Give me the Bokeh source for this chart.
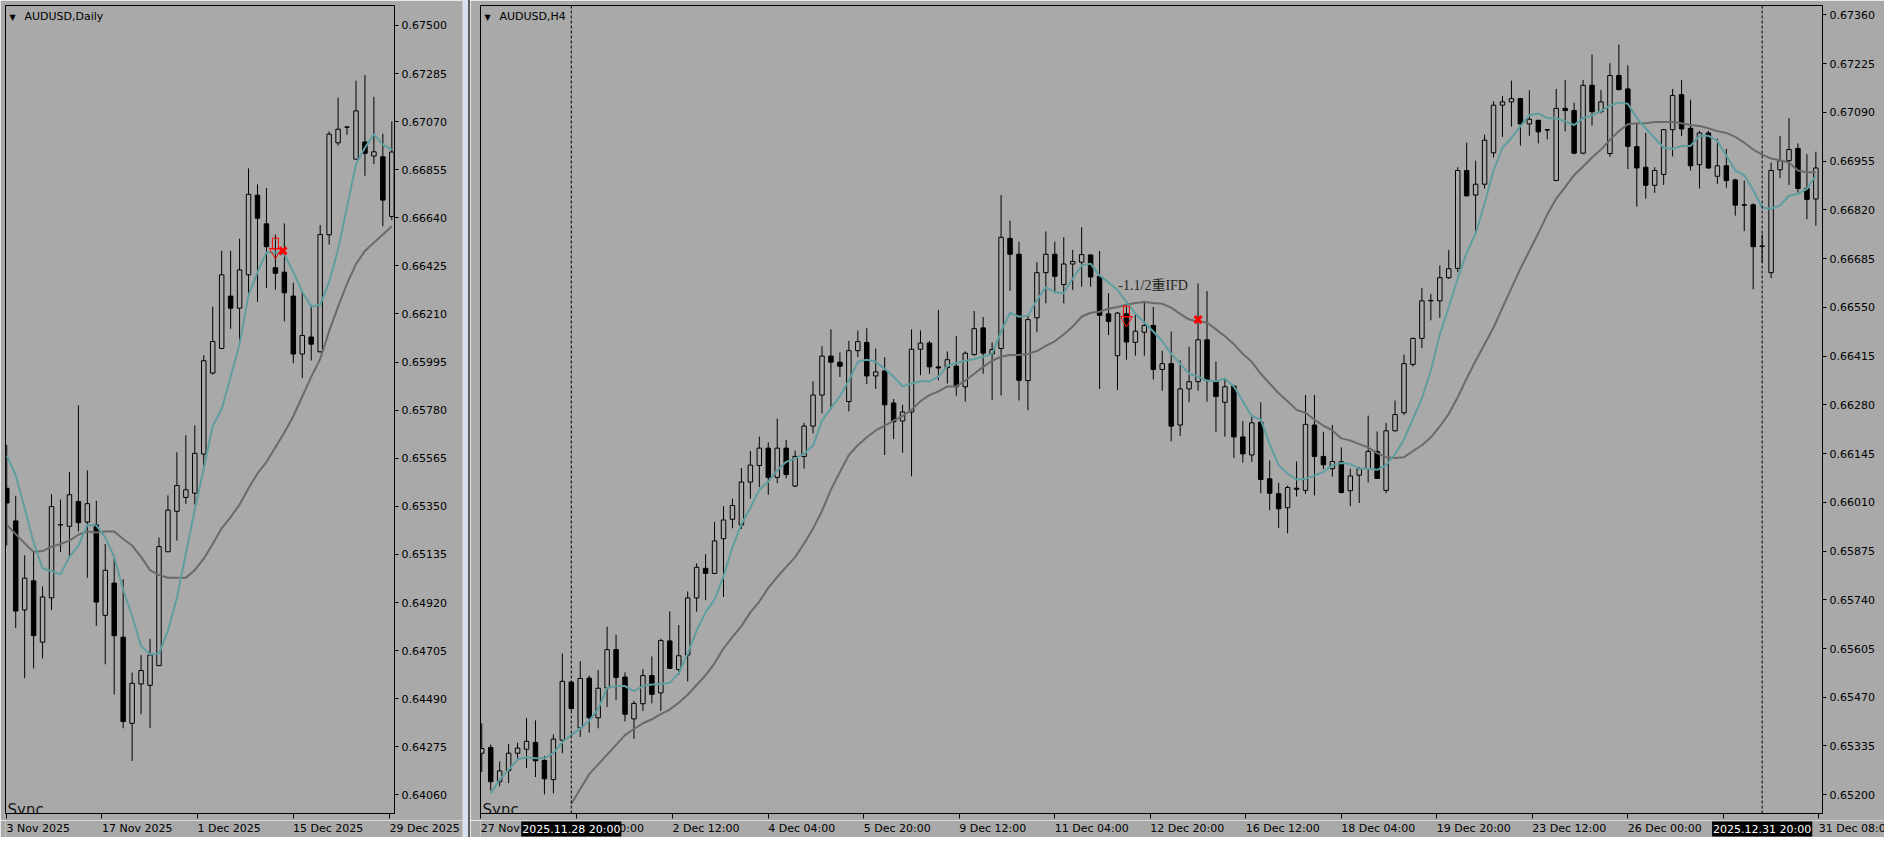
from bokeh.plotting import figure
from bokeh.models import (ColumnDataSource, FixedTicker, PrintfTickFormatter,
                          CustomJSTickFormatter, Span, Label, Range1d, Div)
from bokeh.layouts import row, column
from bokeh.embed import file_html
from bokeh.resources import INLINE

# ---------------- DATA: AUDUSD Daily ----------------
d_open = [0.65431, 0.65285, 0.64887, 0.65017, 0.64743, 0.64941, 0.65267, 0.65261, 0.65372, 0.65280,
          0.65267, 0.64863, 0.65007, 0.64765, 0.64380, 0.64556, 0.64550, 0.64638, 0.65147, 0.65328,
          0.65390, 0.65409, 0.65584, 0.65946, 0.66056, 0.66290, 0.66236, 0.66385, 0.66741, 0.66613,
          0.66417, 0.66397, 0.66290, 0.66031, 0.66107, 0.66041, 0.66564, 0.66975, 0.67045, 0.66902,
          0.66979, 0.66916, 0.66913, 0.66646]
d_high = [0.65625, 0.65397, 0.65131, 0.65146, 0.64992, 0.65404, 0.65380, 0.65504, 0.65801, 0.65511,
          0.65375, 0.65182, 0.65119, 0.65024, 0.64607, 0.64685, 0.64758, 0.65211, 0.65399, 0.65592,
          0.65668, 0.65712, 0.66026, 0.66243, 0.66492, 0.66492, 0.66546, 0.66861, 0.66789, 0.66773,
          0.66565, 0.66615, 0.66350, 0.66308, 0.66251, 0.66608, 0.67026, 0.67177, 0.67048, 0.67253,
          0.67278, 0.67181, 0.67016, 0.67071]
d_low = [0.65175, 0.64806, 0.64582, 0.64626, 0.64670, 0.64887, 0.65146, 0.65119, 0.65238, 0.65031,
         0.64816, 0.64644, 0.64509, 0.64358, 0.64212, 0.64421, 0.64360, 0.64638, 0.65147, 0.65197,
         0.65361, 0.65358, 0.65511, 0.65939, 0.66053, 0.66144, 0.66082, 0.66287, 0.66265, 0.66327,
         0.66319, 0.66177, 0.65990, 0.65924, 0.66002, 0.66038, 0.66520, 0.66963, 0.67011, 0.66902,
         0.66828, 0.66880, 0.66602, 0.66631]
d_close = [0.65365, 0.64882, 0.65029, 0.64772, 0.64945, 0.65349, 0.65268, 0.65402, 0.65277, 0.65362,
           0.64922, 0.65064, 0.64772, 0.64388, 0.64559, 0.64616, 0.64685, 0.65170, 0.65333, 0.65443,
           0.65424, 0.65587, 0.66001, 0.66087, 0.66385, 0.66236, 0.66407, 0.66745, 0.66638, 0.66511,
           0.66392, 0.66305, 0.66031, 0.66114, 0.66075, 0.66565, 0.67014, 0.67036, 0.67046, 0.67118,
           0.66928, 0.66935, 0.66719, 0.66934]
d_fast_ma = [0.65577, 0.65489, 0.65343, 0.65189, 0.65072, 0.65061, 0.65046, 0.65124, 0.65175, 0.65267,
             0.65265, 0.65211, 0.65124, 0.64977, 0.64860, 0.64726, 0.64688, 0.64692, 0.64794, 0.64941,
             0.65138, 0.65336, 0.65519, 0.65709, 0.65784, 0.65929, 0.66075, 0.66294, 0.66397, 0.66485,
             0.66485, 0.66477, 0.66397, 0.66309, 0.66243, 0.66251, 0.66353, 0.66499, 0.66689, 0.66880,
             0.66953, 0.67014, 0.66967, 0.66945]
d_slow_ma = [0.65267, 0.65226, 0.65185, 0.65146, 0.65150, 0.65170, 0.65182, 0.65197, 0.65223, 0.65238,
             0.65233, 0.65238, 0.65238, 0.65204, 0.65175, 0.65124, 0.65065, 0.65043, 0.65031, 0.65031,
             0.65031, 0.65065, 0.65116, 0.65182, 0.65252, 0.65302, 0.65358, 0.65431, 0.65497, 0.65548,
             0.65614, 0.65680, 0.65753, 0.65841, 0.65929, 0.66009, 0.66133, 0.66243, 0.66346, 0.66433,
             0.66492, 0.66529, 0.66565, 0.66602]
d_y_ticks = [0.67500, 0.67285, 0.67070, 0.66855, 0.66640, 0.66425, 0.66210, 0.65995, 0.65780,
             0.65565, 0.65350, 0.65135, 0.64920, 0.64705, 0.64490, 0.64275, 0.64060]
d_x_tick_pos = [-0.03, 10.63, 21.3, 31.97, 42.75]
d_x_tick_labels = ["3 Nov 2025", "17 Nov 2025", "1 Dec 2025", "15 Dec 2025", "29 Dec 2025"]
d_sell_bar, d_sell_stem, d_sell_head = 30, 0.66525, 0.66487
d_exit_bar, d_exit_price = 30.85, 0.66492

# ---------------- DATA: AUDUSD H4 ----------------
h_open = [0.65315, 0.65331, 0.65236, 0.65267, 0.65315, 0.65326, 0.65345, 0.65295, 0.65242, 0.65351,
          0.65512, 0.65385, 0.65523, 0.65413, 0.65496, 0.65602, 0.65526, 0.65410, 0.65452, 0.65530,
          0.65482, 0.65626, 0.65547, 0.65587, 0.65745, 0.65827, 0.65813, 0.65909, 0.65963, 0.65947,
          0.66066, 0.66112, 0.66160, 0.66079, 0.66160, 0.66055, 0.66137, 0.66221, 0.66307, 0.66415,
          0.66398, 0.66289, 0.66430, 0.66453, 0.66360, 0.66374, 0.66285, 0.66235, 0.66260, 0.66434,
          0.66451, 0.66385, 0.66383, 0.66387, 0.66330, 0.66419, 0.66493, 0.66421, 0.66436, 0.66741,
          0.66697, 0.66347, 0.66521, 0.66646, 0.66697, 0.66613, 0.66670, 0.66675, 0.66695, 0.66636,
          0.66532, 0.66416, 0.66532, 0.66453, 0.66481, 0.66500, 0.66378, 0.66394, 0.66224, 0.66324,
          0.66344, 0.66460, 0.66344, 0.66287, 0.66332, 0.66191, 0.66141, 0.66232, 0.66075, 0.66034,
          0.65995, 0.66049, 0.66043, 0.66224, 0.66137, 0.66103, 0.66122, 0.66042, 0.66085, 0.66103,
          0.66151, 0.66043, 0.66208, 0.66258, 0.66392, 0.66464, 0.66568, 0.66568, 0.66632, 0.66658,
          0.66929, 0.66861, 0.66891, 0.66978, 0.67110, 0.67119, 0.67128, 0.67058, 0.67068, 0.67042,
          0.66901, 0.67101, 0.67095, 0.66977, 0.67165, 0.67092, 0.66976, 0.67192, 0.67155, 0.66995,
          0.66938, 0.66888, 0.66918, 0.67042, 0.67139, 0.67046, 0.66945, 0.67033, 0.66913, 0.66942,
          0.66903, 0.66834, 0.66834, 0.66719, 0.66646, 0.66931, 0.66956, 0.66990, 0.66879, 0.66850]
h_high = [0.65398, 0.65339, 0.65292, 0.65341, 0.65344, 0.65412, 0.65406, 0.65307, 0.65367, 0.65591,
          0.65516, 0.65570, 0.65530, 0.65545, 0.65665, 0.65643, 0.65539, 0.65460, 0.65548, 0.65583,
          0.65632, 0.65708, 0.65670, 0.65763, 0.65841, 0.65866, 0.65956, 0.65999, 0.66020, 0.66105,
          0.66152, 0.66192, 0.66176, 0.66242, 0.66183, 0.66153, 0.66230, 0.66345, 0.66442, 0.66489,
          0.66425, 0.66457, 0.66486, 0.66492, 0.66436, 0.66412, 0.66296, 0.66280, 0.66489, 0.66486,
          0.66457, 0.66543, 0.66428, 0.66471, 0.66428, 0.66540, 0.66523, 0.66453, 0.66861, 0.66790,
          0.66732, 0.66528, 0.66675, 0.66760, 0.66732, 0.66744, 0.66709, 0.66772, 0.66697, 0.66706,
          0.66589, 0.66537, 0.66552, 0.66534, 0.66568, 0.66551, 0.66430, 0.66483, 0.66403, 0.66441,
          0.66616, 0.66595, 0.66400, 0.66353, 0.66335, 0.66235, 0.66247, 0.66287, 0.66126, 0.66064,
          0.66056, 0.66123, 0.66307, 0.66307, 0.66205, 0.66224, 0.66162, 0.66103, 0.66108, 0.66250,
          0.66206, 0.66230, 0.66292, 0.66419, 0.66466, 0.66604, 0.66587, 0.66666, 0.66709, 0.66938,
          0.67006, 0.66956, 0.67028, 0.67121, 0.67135, 0.67178, 0.67130, 0.67151, 0.67069, 0.67043,
          0.67155, 0.67180, 0.67117, 0.67180, 0.67250, 0.67152, 0.67226, 0.67278, 0.67220, 0.67060,
          0.67033, 0.66938, 0.67044, 0.67155, 0.67180, 0.67125, 0.67039, 0.67039, 0.67017, 0.66989,
          0.66906, 0.66901, 0.66838, 0.66752, 0.66951, 0.67024, 0.67074, 0.67004, 0.66974, 0.66981]
h_low = [0.65263, 0.65212, 0.65223, 0.65232, 0.65294, 0.65274, 0.65249, 0.65201, 0.65204, 0.65315,
         0.65433, 0.65360, 0.65372, 0.65384, 0.65443, 0.65462, 0.65403, 0.65355, 0.65432, 0.65453,
         0.65432, 0.65548, 0.65532, 0.65514, 0.65707, 0.65739, 0.65811, 0.65748, 0.65938, 0.65936,
         0.66020, 0.66052, 0.66031, 0.66063, 0.66076, 0.66052, 0.66103, 0.66201, 0.66256, 0.66267,
         0.66357, 0.66262, 0.66412, 0.66337, 0.66324, 0.66141, 0.66185, 0.66147, 0.66082, 0.66362,
         0.66366, 0.66348, 0.66339, 0.66305, 0.66289, 0.66416, 0.66366, 0.66294, 0.66306, 0.66596,
         0.66292, 0.66265, 0.66481, 0.66561, 0.66589, 0.66561, 0.66598, 0.66607, 0.66607, 0.66324,
         0.66473, 0.66321, 0.66405, 0.66416, 0.66416, 0.66350, 0.66319, 0.66179, 0.66194, 0.66287,
         0.66319, 0.66289, 0.66205, 0.66192, 0.66133, 0.66120, 0.66122, 0.66035, 0.65988, 0.65939,
         0.65924, 0.66026, 0.66033, 0.66029, 0.66102, 0.66081, 0.66035, 0.65999, 0.66008, 0.66065,
         0.66076, 0.66035, 0.66206, 0.66252, 0.66386, 0.66437, 0.66514, 0.66521, 0.66629, 0.66647,
         0.66856, 0.66756, 0.66879, 0.66965, 0.67022, 0.67051, 0.66998, 0.67025, 0.67004, 0.67015,
         0.66901, 0.67037, 0.66974, 0.66974, 0.67053, 0.67087, 0.66967, 0.67151, 0.66933, 0.66829,
         0.66851, 0.66867, 0.66889, 0.66968, 0.67024, 0.66929, 0.66879, 0.66933, 0.66892, 0.66881,
         0.66804, 0.66761, 0.66600, 0.66675, 0.66631, 0.66908, 0.66889, 0.66868, 0.66794, 0.66776]
h_close = [0.65328, 0.65236, 0.65266, 0.65315, 0.65329, 0.65348, 0.65294, 0.65244, 0.65354, 0.65514,
           0.65439, 0.65522, 0.65413, 0.65495, 0.65602, 0.65525, 0.65423, 0.65453, 0.65530, 0.65478,
           0.65627, 0.65550, 0.65585, 0.65745, 0.65830, 0.65813, 0.65903, 0.65961, 0.66001, 0.66066,
           0.66113, 0.66160, 0.66079, 0.66160, 0.66087, 0.66137, 0.66221, 0.66307, 0.66415, 0.66398,
           0.66387, 0.66430, 0.66455, 0.66360, 0.66371, 0.66280, 0.66233, 0.66260, 0.66434, 0.66451,
           0.66385, 0.66382, 0.66405, 0.66330, 0.66423, 0.66491, 0.66423, 0.66433, 0.66744, 0.66697,
           0.66348, 0.66516, 0.66646, 0.66697, 0.66636, 0.66670, 0.66677, 0.66696, 0.66634, 0.66528,
           0.66511, 0.66534, 0.66454, 0.66484, 0.66500, 0.66378, 0.66394, 0.66221, 0.66324, 0.66344,
           0.66460, 0.66347, 0.66303, 0.66330, 0.66191, 0.66144, 0.66230, 0.66073, 0.66035, 0.65992,
           0.66051, 0.66046, 0.66226, 0.66137, 0.66114, 0.66123, 0.66037, 0.66083, 0.66103, 0.66151,
           0.66076, 0.66208, 0.66253, 0.66394, 0.66464, 0.66568, 0.66569, 0.66632, 0.66657, 0.66929,
           0.66859, 0.66891, 0.67013, 0.67110, 0.67119, 0.67128, 0.67058, 0.67071, 0.67036, 0.67041,
           0.67101, 0.67095, 0.66977, 0.67165, 0.67092, 0.67119, 0.67192, 0.67153, 0.66996, 0.66936,
           0.66888, 0.66929, 0.67042, 0.67137, 0.67044, 0.66942, 0.67033, 0.66936, 0.66942, 0.66901,
           0.66833, 0.66833, 0.66718, 0.66720, 0.66929, 0.66956, 0.66987, 0.66879, 0.66849, 0.66936]
h_fast_start = 1
h_fast_ma = [0.65203, 0.65242, 0.65269, 0.65298, 0.65304, 0.65301, 0.65301, 0.65315, 0.65346, 0.65365,
             0.65383, 0.65405, 0.65437, 0.65496, 0.65501, 0.65501, 0.65487, 0.65501, 0.65505, 0.65507,
             0.65510, 0.65537, 0.65591, 0.65655, 0.65705, 0.65741, 0.65804, 0.65886, 0.65949, 0.65995,
             0.66045, 0.66067, 0.66099, 0.66122, 0.66131, 0.66144, 0.66167, 0.66236, 0.66271, 0.66304,
             0.66347, 0.66399, 0.66405, 0.66399, 0.66380, 0.66358, 0.66331, 0.66339, 0.66345, 0.66345,
             0.66358, 0.66388, 0.66396, 0.66402, 0.66407, 0.66413, 0.66421, 0.66483, 0.66535, 0.66524,
             0.66527, 0.66570, 0.66606, 0.66592, 0.66589, 0.66630, 0.66666, 0.66671, 0.66638, 0.66619,
             0.66598, 0.66565, 0.66532, 0.66508, 0.66483, 0.66456, 0.66421, 0.66394, 0.66366, 0.66358,
             0.66347, 0.66345, 0.66353, 0.66331, 0.66290, 0.66249, 0.66239, 0.66171, 0.66113, 0.66089,
             0.66073, 0.66075, 0.66084, 0.66094, 0.66113, 0.66119, 0.66116, 0.66103, 0.66103, 0.66100,
             0.66113, 0.66143, 0.66184, 0.66241, 0.66298, 0.66375, 0.66475, 0.66551, 0.66630, 0.66701,
             0.66755, 0.66837, 0.66929, 0.66992, 0.67019, 0.67052, 0.67082, 0.67087, 0.67074, 0.67074,
             0.67065, 0.67055, 0.67074, 0.67082, 0.67093, 0.67109, 0.67117, 0.67114, 0.67074, 0.67046,
             0.67019, 0.66992, 0.66989, 0.66997, 0.66997, 0.67025, 0.67025, 0.67011, 0.66970, 0.66929,
             0.66916, 0.66875, 0.66826, 0.66823, 0.66832, 0.66859, 0.66864, 0.66878, 0.66916]
h_slow_start = 10
h_slow_ma = [0.65175, 0.65216, 0.65257, 0.65284, 0.65311, 0.65338, 0.65365, 0.65382, 0.65398, 0.65409,
             0.65423, 0.65436, 0.65455, 0.65477, 0.65504, 0.65531, 0.65564, 0.65605, 0.65637, 0.65667,
             0.65705, 0.65735, 0.65773, 0.65803, 0.65831, 0.65858, 0.65896, 0.65937, 0.65986, 0.66045,
             0.66094, 0.66141, 0.66168, 0.66190, 0.66209, 0.66222, 0.66236, 0.66249, 0.66266, 0.66290,
             0.66307, 0.66317, 0.66331, 0.66331, 0.66347, 0.66366, 0.66385, 0.66402, 0.66413, 0.66418,
             0.66418, 0.66421, 0.66429, 0.66443, 0.66456, 0.66475, 0.66497, 0.66524, 0.66535, 0.66538,
             0.66546, 0.66551, 0.66557, 0.66562, 0.66565, 0.66562, 0.66560, 0.66549, 0.66532, 0.66516,
             0.66511, 0.66508, 0.66489, 0.66470, 0.66448, 0.66421, 0.66399, 0.66366, 0.66339, 0.66312,
             0.66290, 0.66266, 0.66258, 0.66239, 0.66222, 0.66209, 0.66187, 0.66181, 0.66171, 0.66162,
             0.66146, 0.66135, 0.66133, 0.66135, 0.66152, 0.66168, 0.66190, 0.66220, 0.66255, 0.66301,
             0.66353, 0.66402, 0.66448, 0.66494, 0.66549, 0.66603, 0.66657, 0.66706, 0.66755, 0.66807,
             0.66851, 0.66883, 0.66916, 0.66940, 0.66965, 0.66987, 0.67014, 0.67038, 0.67057, 0.67060,
             0.67060, 0.67063, 0.67063, 0.67063, 0.67060, 0.67055, 0.67052, 0.67046, 0.67038, 0.67033,
             0.67022, 0.67006, 0.66987, 0.66973, 0.66962, 0.66957, 0.66951, 0.66929, 0.66924, 0.66924]
h_y_ticks = [0.67360, 0.67225, 0.67090, 0.66955, 0.66820, 0.66685, 0.66550, 0.66415, 0.66280,
             0.66145, 0.66010, 0.65875, 0.65740, 0.65605, 0.65470, 0.65335, 0.65200]
h_x_tick_pos = [-0.1, 10.63, 21.3, 32.0, 42.67, 53.33, 64.0, 74.67, 85.33, 96.0,
                106.67, 117.33, 128.0, 149.33]
h_x_tick_labels = ["27 Nov 04:00", "1 Dec 00:00", "2 Dec 12:00", "4 Dec 04:00", "5 Dec 20:00",
                   "9 Dec 12:00", "11 Dec 04:00", "12 Dec 20:00", "16 Dec 12:00", "18 Dec 04:00",
                   "19 Dec 20:00", "23 Dec 12:00", "26 Dec 00:00", "31 Dec 08:00"]
h_hidden_tick = 138.67
h_vlines = [10, 143]
h_vline_labels = ["2025.11.28 20:00", "2025.12.31 20:00"]
h_sell_bar, h_sell_stem, h_sell_head = 72, 0.66538, 0.66515
h_exit_bar, h_exit_price = 80, 0.66516
h_note_bar, h_note_price, h_note_text = 71.1, 0.66610, "-1.1/2重IFD"

# ---------------- STYLE / LAYOUT ----------------
BG = "#a9a9a9"
TEAL = "#5f9ea0"
GREY_MA = "#6a6a6a"
FONT = "DejaVu Sans"
H = 837
TOP = 5
TICK_ZONE = 7
STRIP_H = 17
FRAME_H = H - TOP - TICK_ZONE - STRIP_H
X0 = -0.14


def no_align(fig):
    try:
        fig.frame_align = False
    except Exception:
        pass


def make_panel(width, b_left, b_right, x_end, y_lo, y_hi, o, hi, lo, c,
               fast_start, fast, slow_start, slow, y_ticks, xt_pos, xt_lab, title,
               extra_ticks=(), vlines=(), vline_labels=()):
    p = figure(width=width, height=H - STRIP_H, x_range=Range1d(X0, x_end),
               y_range=Range1d(y_lo, y_hi),
               output_backend="svg", toolbar_location=None, tools="", y_axis_location="right",
               min_border_left=b_left, min_border_right=b_right, min_border_top=TOP,
               min_border_bottom=TICK_ZONE, background_fill_color=BG, border_fill_color=BG,
               outline_line_color="black", outline_line_width=1, margin=(0, 0, 0, 0))
    no_align(p)
    p.grid.visible = False

    xs = list(range(len(o)))
    src = ColumnDataSource(dict(
        x=xs, high=hi, low=lo,
        top=[max(a, b) for a, b in zip(o, c)],
        bottom=[min(a, b) for a, b in zip(o, c)],
        fill=[BG if b >= a else "black" for a, b in zip(o, c)]))
    p.segment(x0="x", y0="low", x1="x", y1="high", source=src, line_color="black", line_width=1)
    p.vbar(x="x", width=0.5, top="top", bottom="bottom", source=src,
           fill_color="fill", line_color="black", line_width=1)

    p.line(list(range(slow_start, slow_start + len(slow))), slow, line_color=GREY_MA, line_width=2)
    p.line(list(range(fast_start, fast_start + len(fast))), fast, line_color=TEAL, line_width=2)

    for vx in vlines:
        p.add_layout(Span(location=vx, dimension="height", line_color="black",
                          line_dash="3 2", line_width=1))

    yax = p.yaxis[0]
    yax.ticker = FixedTicker(ticks=y_ticks)
    yax.formatter = PrintfTickFormatter(format="%.5f")
    yax.major_label_text_font = FONT
    yax.major_label_text_font_size = "11px"
    yax.major_label_text_color = "black"
    yax.major_label_standoff = 3
    yax.major_tick_out = 4
    yax.major_tick_in = 0
    yax.minor_tick_line_color = None
    yax.axis_line_color = "black"
    yax.major_tick_line_color = "black"

    xax = p.xaxis[0]
    xax.ticker = FixedTicker(ticks=list(xt_pos) + list(extra_ticks))
    xax.formatter = CustomJSTickFormatter(code="return ''")
    xax.major_label_text_font_size = "1px"
    xax.major_label_standoff = 0
    xax.major_tick_out = 5
    xax.major_tick_in = 0
    xax.minor_tick_line_color = None
    xax.axis_line_color = "black"
    xax.major_tick_line_color = "black"

    p.add_layout(Label(x=4, y=FRAME_H - 7, x_units="screen", y_units="screen", text="▼",
                       text_baseline="top", text_font=FONT, text_font_size="8px", text_color="black"))
    p.add_layout(Label(x=19, y=FRAME_H - 4, x_units="screen", y_units="screen", text=title,
                       text_baseline="top", text_font=FONT, text_font_size="11px", text_color="black"))
    p.add_layout(Label(x=2, y=4, x_units="screen", y_units="screen", text="Sync",
                       text_baseline="alphabetic", text_font=FONT, text_font_size="15px",
                       text_color="#151515"))

    # strip under the chart carrying the time labels (same x mapping, frame runs to the right edge)
    frame_w = width - b_left - b_right
    strip_end = X0 + (x_end - X0) * (width - b_left) / frame_w
    s = figure(width=width, height=STRIP_H, x_range=Range1d(X0, strip_end),
               y_range=Range1d(0, STRIP_H), output_backend="svg", toolbar_location=None, tools="",
               x_axis_location=None, y_axis_location=None, min_border_left=b_left,
               min_border_right=0, min_border_top=0, min_border_bottom=0,
               background_fill_color=BG, border_fill_color=BG, outline_line_color=None,
               margin=(0, 0, 0, 0))
    no_align(s)
    s.grid.visible = False
    for pos, lab in zip(xt_pos, xt_lab):
        s.add_layout(Label(x=pos, y=STRIP_H - 1, text=lab, text_align="left",
                           text_baseline="top", x_offset=0, text_font=FONT,
                           text_font_size="11px", text_color="black"))
    for vx, vlab in zip(vlines, vline_labels):
        s.add_layout(Label(x=vx, y=STRIP_H - 1, text=vlab, text_align="center",
                           text_baseline="top", text_font=FONT, text_font_size="11px",
                           text_color="white", background_fill_color="black", padding=1))
    return p, column(p, s, spacing=0)


def add_signal(p, sell_bar, stem, head, exit_bar, exit_price):
    p.rect(x=[sell_bar], y=[stem], width=6, height=11, width_units="screen", height_units="screen",
           fill_alpha=0, line_color="red", line_width=1)
    p.scatter(x=[sell_bar], y=[head], marker="inverted_triangle", size=12,
              fill_alpha=0, line_color="red", line_width=1)
    p.scatter(x=[exit_bar], y=[exit_price], marker="x", size=10, line_color="red", line_width=3)


LEFT_W, GAP_W = 462, 8
RIGHT_W = 1884 - LEFT_W - GAP_W

left, left_col = make_panel(LEFT_W, 5, 68, 43.3, 0.63977, 0.67589, d_open, d_high, d_low, d_close,
                            0, d_fast_ma, 0, d_slow_ma, d_y_ticks, d_x_tick_pos, d_x_tick_labels,
                            "AUDUSD,Daily")
add_signal(left, d_sell_bar, d_sell_stem, d_sell_head, d_exit_bar, d_exit_price)

right, right_col = make_panel(RIGHT_W, 10, 62, 149.74, 0.65148, 0.67386, h_open, h_high, h_low,
                              h_close, h_fast_start, h_fast_ma, h_slow_start, h_slow_ma, h_y_ticks,
                              h_x_tick_pos, h_x_tick_labels, "AUDUSD,H4",
                              extra_ticks=[h_hidden_tick], vlines=h_vlines,
                              vline_labels=h_vline_labels)
add_signal(right, h_sell_bar, h_sell_stem, h_sell_head, h_exit_bar, h_exit_price)
right.add_layout(Label(x=h_note_bar, y=h_note_price, text=h_note_text, text_align="left",
                       text_baseline="middle",
                       text_font="'Liberation Serif', 'Noto Sans CJK JP', serif",
                       text_font_size="14px", text_color="#262626"))

gap = Div(text="", width=GAP_W, height=H, margin=(0, 0, 0, 0),
          styles={"background-color": "#d7e2f0", "border-left": "1px solid #c6c6c6",
                  "border-right": "2px solid #5c5c5c", "box-sizing": "border-box"})

layout = row(left_col, gap, right_col, spacing=0)
open("out.html", "w").write(file_html(layout, INLINE, title="AUDUSD"))
